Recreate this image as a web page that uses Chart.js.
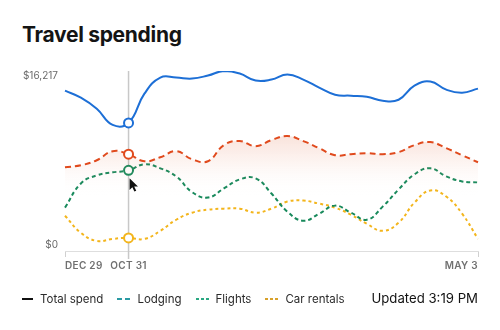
<!DOCTYPE html>
<html>
<head>
<meta charset="utf-8">
<script src="https://cdn.jsdelivr.net/npm/chart.js@4/dist/chart.umd.min.js"></script>
<style>
  html, body { margin: 0; padding: 0; background: #fff; }
  body { width: 500px; height: 330px; position: relative; overflow: hidden; font-family: Inter, "Noto Sans", sans-serif; }
  #chart { position: absolute; left: 0; top: 0; }
  #title { position: absolute; left: 22px; top: 22px; font-size: 21px; font-weight: 700; color: #141414; letter-spacing: -0.3px; }
  #legend { position: absolute; left: 22px; top: 292px; height: 14px; display: flex; align-items: center; font-size: 11.5px; color: #2b2b2b; }
  #legend .item { display: flex; align-items: center; margin-right: 14px; }
  #legend svg { margin-right: 7px; }
  #updated { position: absolute; right: 22px; top: 290px; font-size: 13.2px; color: #111; }
</style>
</head>
<body>
<div id="title">Travel spending</div>
<canvas id="chart" width="500" height="330"></canvas>
<div id="legend">
  <div class="item"><svg width="11" height="2"><line x1="0" y1="1" x2="11" y2="1" stroke="#111" stroke-width="2"/></svg>Total spend</div>
  <div class="item"><svg width="13" height="2"><line x1="0" y1="1" x2="13" y2="1" stroke="#2a9aa3" stroke-width="2" stroke-dasharray="5 3"/></svg>Lodging</div>
  <div class="item"><svg width="13" height="2"><line x1="0" y1="1" x2="13" y2="1" stroke="#2aa882" stroke-width="2" stroke-dasharray="3 2"/></svg>Flights</div>
  <div class="item"><svg width="13" height="2"><line x1="0" y1="1" x2="13" y2="1" stroke="#d8a12b" stroke-width="2" stroke-dasharray="3 2"/></svg>Car rentals</div>
</div>
<div id="updated">Updated 3:19 PM</div>
<script>
// spending per period, in dollars
const totalSpend = [14445, 13809, 12810, 11356, 11538, 14173, 15626, 15626, 15535, 15808, 16217, 15990, 15354,
  15445, 15899, 15445, 14718, 14082, 13991, 13900, 13537, 13628, 14899, 15263, 14536, 14263, 14627];
const lodging = [7541, 7722, 8177, 8994, 8722, 8086, 8449, 8994, 8267, 8086, 9539, 9903, 9448,
  9994, 10357, 9903, 9267, 8631, 8722, 8812, 8722, 8903, 9539, 9812, 9267, 8631, 7995];
const flights = [3907, 6087, 6814, 7086, 7268, 7813, 7450, 6723, 5300, 4815, 5633, 6450, 6541,
  5178, 3543, 2726, 3361, 4088, 3452, 2816, 3997, 5542, 6905, 7450, 6723, 6269, 6178];
const carRentals = [3180, 1635, 909, 1090, 1181, 1090, 1817, 2816, 3452, 3725, 3816, 3816, 3452,
  3816, 4452, 4543, 4270, 3907, 3271, 2453, 1817, 2543, 4361, 5451, 4906, 3361, 1090];

const yTicks = [0, 16217];
const tickIndex = [0, 4, 26];
const tickLabels = ['DEC 29', 'OCT 31', 'MAY 3'];
const activeIndex = 4;

const categories = totalSpend.map((_, i) => i);

const pointOpts = (color) => ({
  pointRadius: (c) => (c.dataIndex === activeIndex ? 4.5 : 0),
  pointHoverRadius: 0,
  pointBackgroundColor: '#fff',
  pointBorderColor: color,
  pointBorderWidth: 2,
});

// vertical hover rule behind the lines
const hoverRule = {
  id: 'hoverRule',
  beforeDatasetsDraw(chart) {
    const { ctx, chartArea } = chart;
    const x = chart.scales.x.getPixelForValue(activeIndex);
    ctx.save();
    ctx.strokeStyle = '#c8c8c8';
    ctx.lineWidth = 1.5;
    ctx.beginPath();
    ctx.moveTo(x, chartArea.top);
    ctx.lineTo(x, chartArea.bottom + 8);
    ctx.stroke();
    ctx.restore();
  }
};

// axis labels and the mouse pointer
const axisText = {
  id: 'axisText',
  afterDraw(chart) {
    const { ctx, chartArea, scales } = chart;
    ctx.save();
    ctx.font = '10px Inter';
    ctx.fillStyle = '#6a6a6a';
    ctx.textAlign = 'right';
    yTicks.forEach((v, i) => {
      ctx.textBaseline = i === 0 ? 'bottom' : 'top';
      const y = scales.y.getPixelForValue(v) + (i === 0 ? -1 : 0);
      ctx.fillText('$' + v.toLocaleString('en-US'), chartArea.left - 7, y);
    });

    ctx.font = '600 10px Inter';
    ctx.fillStyle = '#707070';
    ctx.textBaseline = 'middle';
    if ('letterSpacing' in ctx) ctx.letterSpacing = '0.3px';
    tickIndex.forEach((idx, i) => {
      const x = scales.x.getPixelForValue(idx);
      ctx.textAlign = i === 0 ? 'left' : (i === tickIndex.length - 1 ? 'right' : 'center');
      ctx.fillText(tickLabels[i], x, chartArea.bottom + 15);
    });

    // pointer arrow
    const px = scales.x.getPixelForValue(activeIndex) + 1;
    const py = scales.y.getPixelForValue(flights[activeIndex]) + 8;
    ctx.translate(px, py);
    ctx.scale(0.78, 0.78);
    ctx.beginPath();
    ctx.moveTo(0, 0);
    ctx.lineTo(0, 15);
    ctx.lineTo(3.6, 11.4);
    ctx.lineTo(6.2, 17);
    ctx.lineTo(8.6, 16);
    ctx.lineTo(6, 10.6);
    ctx.lineTo(10.8, 10.6);
    ctx.closePath();
    ctx.fillStyle = '#111';
    ctx.strokeStyle = '#fff';
    ctx.lineWidth = 1.4;
    ctx.stroke();
    ctx.fill();
    ctx.restore();
  }
};

new Chart(document.getElementById('chart'), {
  type: 'line',
  data: {
    labels: categories,
    datasets: [
      {
        label: 'Total spend',
        data: totalSpend,
        borderColor: '#1d6fd6',
        borderWidth: 2,
        fill: false,
        ...pointOpts('#1d6fd6'),
      },
      {
        label: 'Lodging',
        data: lodging,
        borderColor: '#e04a1d',
        borderWidth: 2,
        borderDash: [6, 4],
        fill: 'origin',
        backgroundColor: (c) => {
          const area = c.chart.chartArea;
          if (!area) return 'transparent';
          const g = c.chart.ctx.createLinearGradient(0, area.top + 62, 0, area.top + 125);
          g.addColorStop(0, 'rgba(226, 110, 70, 0.20)');
          g.addColorStop(0.45, 'rgba(226, 110, 70, 0.08)');
          g.addColorStop(1, 'rgba(255, 255, 255, 0)');
          return g;
        },
        ...pointOpts('#e04a1d'),
      },
      {
        label: 'Flights',
        data: flights,
        borderColor: '#17895b',
        borderWidth: 2,
        borderDash: [4, 3],
        fill: false,
        ...pointOpts('#17895b'),
      },
      {
        label: 'Car rentals',
        data: carRentals,
        borderColor: '#f3b51c',
        borderWidth: 2,
        borderDash: [3, 3],
        fill: false,
        ...pointOpts('#f3b51c'),
      },
    ]
  },
  options: {
    responsive: false,
    devicePixelRatio: 1,
    animation: false,
    events: [],
    elements: { line: { tension: 0.45 } },
    layout: { padding: { left: 65, right: 22, top: 71, bottom: 72 } },
    plugins: {
      legend: { display: false },
      tooltip: { enabled: false },
    },
    scales: {
      x: {
        type: 'category',
        offset: false,
        border: { color: '#dedede', width: 1 },
        grid: {
          drawOnChartArea: false,
          tickLength: 6,
          lineWidth: 1,
          color: (c) => (c.index === tickIndex[0] || c.index === tickIndex[tickIndex.length - 1] ? '#d0d0d0' : 'rgba(0,0,0,0)'),
        },
        ticks: { display: false, autoSkip: false },
        afterFit: (s) => { s.height = 7; },
      },
      y: {
        display: false,
        min: yTicks[0],
        max: yTicks[yTicks.length - 1],
      }
    }
  },
  plugins: [hoverRule, axisText]
});
</script>
</body>
</html>
